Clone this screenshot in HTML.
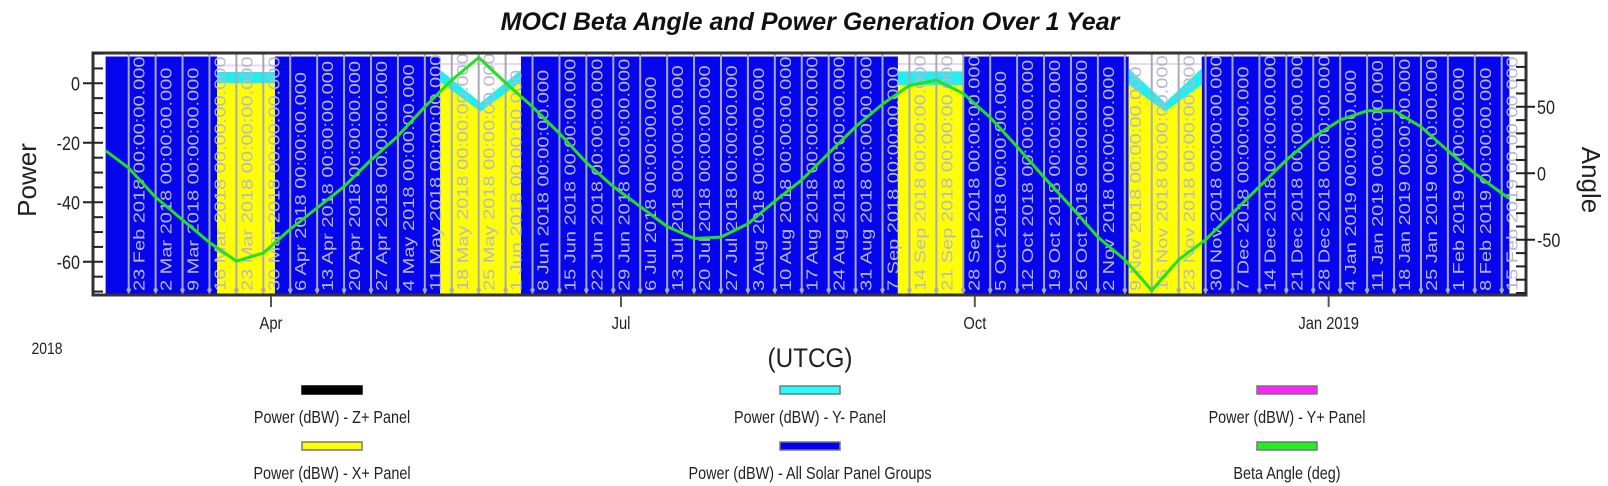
<!DOCTYPE html>
<html><head><meta charset="utf-8"><style>
body{margin:0;background:#fff;width:1608px;height:486px;overflow:hidden}
svg{display:block;font-family:"Liberation Sans",sans-serif}
</style></head><body>
<svg id="chart" width="1608" height="486" viewBox="0 0 1608 486" xmlns="http://www.w3.org/2000/svg">
<text x="810" y="30" text-anchor="middle" font-size="25" font-weight="bold" font-style="italic" fill="#111">MOCI Beta Angle and Power Generation Over 1 Year</text>
<defs><clipPath id="clip"><rect x="94" y="54" width="1431" height="240"/></clipPath></defs>
<rect x="93" y="53" width="1433" height="242" fill="#fff"/>
<g id="marks" clip-path="url(#clip)"></g>
<rect x="93" y="53" width="1433" height="242" fill="none" stroke="#333" stroke-width="3"/>
<g id="axes"></g>
<text transform="translate(36,180) rotate(-90)" text-anchor="middle" font-size="26" fill="#222">Power</text>
<text transform="translate(1582,180) rotate(90)" text-anchor="middle" font-size="26" fill="#222">Angle</text>
<text transform="translate(810,367) scale(0.9,1)" text-anchor="middle" font-size="27" fill="#222">(UTCG)</text>
<text transform="translate(47,354) scale(0.82,1)" text-anchor="middle" font-size="17" fill="#222">2018</text>
<g id="legend"></g>
</svg>
<script>
// ---- data ----
const betaDates = ["2018-02-17","2018-02-23","2018-03-02","2018-03-09","2018-03-16","2018-03-23","2018-03-30","2018-04-06","2018-04-13","2018-04-20","2018-04-27","2018-05-04","2018-05-11","2018-05-18","2018-05-25","2018-06-01","2018-06-08","2018-06-15","2018-06-22","2018-06-29","2018-07-06","2018-07-13","2018-07-20","2018-07-27","2018-08-03","2018-08-10","2018-08-17","2018-08-24","2018-08-31","2018-09-07","2018-09-14","2018-09-21","2018-09-28","2018-10-05","2018-10-12","2018-10-19","2018-10-26","2018-11-02","2018-11-09","2018-11-16","2018-11-23","2018-11-30","2018-12-07","2018-12-14","2018-12-21","2018-12-28","2019-01-04","2019-01-11","2019-01-18","2019-01-25","2019-02-01","2019-02-08","2019-02-15","2019-02-17"];
const betaValues = [17,4,-18,-35,-52,-66,-60,-42,-26,-10,10,28,50,70,87,68,50,30,8,-10,-25,-40,-49,-48,-38,-21,-5,15,35,52,66,70,60,42,20,-3,-25,-48,-65,-88,-65,-50,-30,-10,10,27,40,47,47,35,17,0,-15,-19];
const allPanelsStart = "2018-02-17";
const allPanelsEnd = "2019-02-17";
const allPanelsPower = 9;
const windowStarts = ["2018-03-18","2018-05-15","2018-09-11","2018-11-10"];
const windowEnds = ["2018-04-02","2018-06-05","2018-09-28","2018-11-29"];
const xPlusEdge = [0,0.5,-0.6,-0.5];
const xPlusMid = [0,-9.5,-0.6,-9.5];
const yMinusEdge = [3.8,4.5,4,5];
const yMinusMid = [3.8,-6.5,4,-6.5];
const totalInWindow = [6,6.5,6.5,6.5];
const gridStart = "2018-02-23";
const gridWeeks = 52;
const monthTicks = ["2018-04-01","2018-07-01","2018-10-01","2019-01-01"];
const monthLabels = ["Apr","Jul","Oct","Jan 2019"];
const powerTicks = [0,-20,-40,-60];
const angleTicks = [50,0,-50];
const legendLabels = ["Power (dBW) - Z+ Panel","Power (dBW) - Y- Panel","Power (dBW) - Y+ Panel","Power (dBW) - X+ Panel","Power (dBW) - All Solar Panel Groups","Beta Angle (deg)"];
const legendColors = ["#000000","#22ffff","#ff22ff","#ffff00","#0000ee","#22ee22"];

// ---- scales ----
const NS="http://www.w3.org/2000/svg";
const DAY=86400000, APR1=Date.UTC(2018,3,1), PXD=3.846;
function dt(s){const p=s.split("-");return Date.UTC(+p[0],+p[1]-1,+p[2]);}
function x(s){return 271+(dt(s)-APR1)/DAY*PXD;}
function xt(t){return 271+(t-APR1)/DAY*PXD;}
function yP(p){return 83.3-p*2.975;}
function yA(a){return 173.3-a*1.33;}
function mk(tag,attrs,parent){const e=document.createElementNS(NS,tag);for(const k in attrs)e.setAttribute(k,attrs[k]);parent.appendChild(e);return e;}
const marks=document.getElementById("marks"), axes=document.getElementById("axes"), legend=document.getElementById("legend");
const bottom=295;

let el=mk("rect",{x:x(allPanelsStart),y:yP(allPanelsPower),width:x(allPanelsEnd)-x(allPanelsStart),height:bottom-yP(allPanelsPower),fill:"#0505ee"},marks);



for(let i=0;i<windowStarts.length;i++){
  const x0=x(windowStarts[i]),x1=x(windowEnds[i]),xm=(x0+x1)/2;
  el=mk("rect",{x:x0,y:53,width:x1-x0,height:bottom-53,fill:"#fff"},marks);
  
  
  el=mk("line",{x1:x0,x2:x1,y1:yP(totalInWindow[i]),y2:yP(totalInWindow[i]),stroke:"#e8d8f0","stroke-width":2},marks);
  
  
  el=mk("polygon",{points:`${x0},${bottom} ${x0},${yP(yMinusEdge[i])} ${xm},${yP(yMinusMid[i])} ${x1},${yP(yMinusEdge[i])} ${x1},${bottom}`,fill:"#22eef0"},marks);
  
  
  el=mk("polygon",{points:`${x0},${bottom} ${x0},${yP(xPlusEdge[i])} ${xm},${yP(xPlusMid[i])} ${x1},${yP(xPlusEdge[i])} ${x1},${bottom}`,fill:"#ffff00"},marks);
  
  
}

const MON=["Jan","Feb","Mar","Apr","May","Jun","Jul","Aug","Sep","Oct","Nov","Dec"];
const g0=dt(gridStart);
for(let w=0;w<gridWeeks+1;w++){
  const t=g0+w*7*DAY, d=new Date(t), gx=xt(t);
  el=mk("line",{x1:gx,x2:gx,y1:53,y2:bottom,stroke:"#a8a8b8","stroke-width":2},marks);
  
  
  el=mk("circle",{cx:gx,cy:290,r:2.2,fill:"#a8a8b8"},marks);
  
  
  el=mk("text",{transform:`translate(${gx+16},${291}) rotate(-90) scale(1,0.78)`,"font-size":20,fill:"#b8b8cc"},marks);
  el.textContent=`${d.getUTCDate()} ${MON[d.getUTCMonth()]} ${d.getUTCFullYear()} 00:00:00.000`;
  
  
}

el=mk("polyline",{points:betaDates.map((d,i)=>`${x(d)},${yA(betaValues[i])}`).join(" "),fill:"none",stroke:"#22e022","stroke-width":3,"stroke-linejoin":"round"},marks);



for(let p=-70;p<=10;p+=5){
  const yy=yP(p), major=powerTicks.includes(p);
  el=mk("line",{x1:major?83:93,x2:103,y1:yy,y2:yy,stroke:"#222","stroke-width":2},axes);
  
  
}
powerTicks.forEach(p=>{
  el=mk("text",{transform:`translate(80,${yP(p)+7}) scale(0.85,1)`,"text-anchor":"end","font-size":19,fill:"#222"},axes);
  el.textContent=p;
  
  
});
for(let a=-90;a<=90;a+=10){
  const yy=yA(a), major=angleTicks.includes(a);
  if(yy<54||yy>294) continue;
  el=mk("line",{x1:1516,x2:major?1535:1526,y1:yy,y2:yy,stroke:"#222","stroke-width":2},axes);
  
  
}
angleTicks.forEach(a=>{
  el=mk("text",{transform:`translate(1537,${yA(a)+7}) scale(0.85,1)`,"font-size":19,fill:"#222"},axes);
  el.textContent=a;
  
  
});
monthTicks.forEach((m,i)=>{
  const mx=x(m);
  el=mk("line",{x1:mx,x2:mx,y1:296,y2:307,stroke:"#555","stroke-width":2},axes);
  
  
  el=mk("text",{transform:`translate(${mx},329) scale(0.82,1)`,"text-anchor":"middle","font-size":18,fill:"#222"},axes);
  el.textContent=monthLabels[i];
  
  
});

const colX=[332,810,1287], rowSw=[390,446], rowTx=[423,479];
legendLabels.forEach((lab,i)=>{
  const c=i%3,r=Math.floor(i/3);
  const g=mk("g",{},legend);
  
  
  el=mk("rect",{x:colX[c]-30,y:rowSw[r]-4,width:60,height:8,fill:legendColors[i],stroke:i===0?"#000":"#777","stroke-width":1.5},g);
  
  
  el=mk("text",{transform:`translate(${colX[c]},${rowTx[r]}) scale(0.8,1)`,"text-anchor":"middle","font-size":18,fill:"#222"},g);
  el.textContent=lab;
  
  
});
</script>
</body></html>
